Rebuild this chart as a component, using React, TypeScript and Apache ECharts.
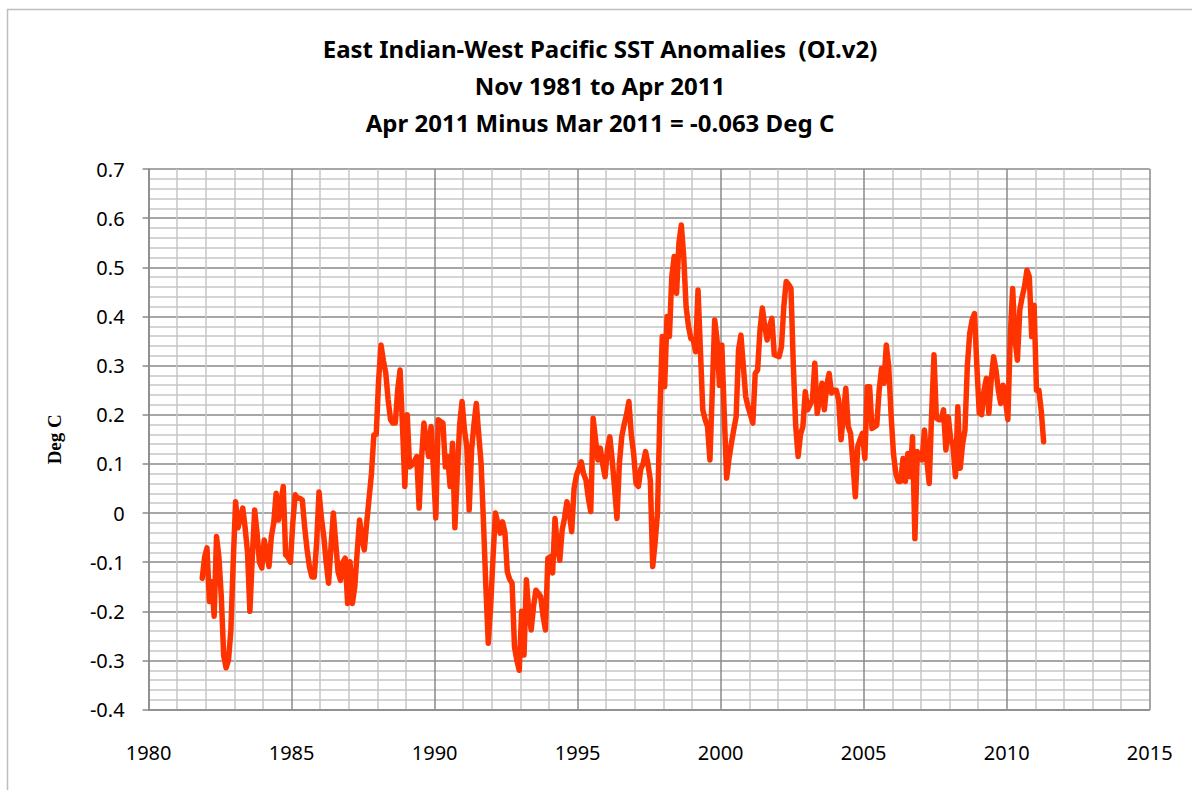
import React, { useEffect, useRef } from "react";
import * as echarts from "echarts";

const titleLines = [
  "East Indian-West Pacific SST Anomalies  (OI.v2)",
  "Nov 1981 to Apr 2011",
  "Apr 2011 Minus Mar 2011 = -0.063 Deg C",
];
const yAxisName = "Deg C";
const startYear = 1981;
const startMonth = 11;
const xMin = 1980;
const xMax = 2015;
const xStep = 5;
const yMin = -0.4;
const yMax = 0.7;
const yStep = 0.1;

// Monthly anomalies, Nov 1981 .. Apr 2011 (deg C)
const anomalies = [
  -0.133, -0.09, -0.071, -0.18, -0.14, -0.21, -0.048, -0.09, -0.17, -0.29,
  -0.315, -0.3, -0.24, -0.1, 0.023, -0.03, -0.01, 0.01, -0.03, -0.08,
  -0.2, -0.09, 0.006, -0.04, -0.1, -0.112, -0.055, -0.08, -0.109, -0.048,
  -0.02, 0.04, -0.014, 0.02, 0.054, -0.085, -0.09, -0.1, -0.02, 0.037,
  0.03, 0.03, 0.026, -0.03, -0.075, -0.11, -0.13, -0.13, -0.06, 0.043,
  -0.01, -0.048, -0.1, -0.143, -0.07, 0.0, -0.06, -0.12, -0.137, -0.1,
  -0.092, -0.184, -0.099, -0.184, -0.15, -0.08, -0.014, -0.05, -0.075, -0.02,
  0.03, 0.08, 0.159, 0.16, 0.27, 0.342, 0.31, 0.285, 0.23, 0.19,
  0.183, 0.183, 0.25, 0.291, 0.18, 0.054, 0.2, 0.094, 0.098, 0.105,
  0.115, 0.01, 0.11, 0.183, 0.15, 0.115, 0.176, 0.09, -0.01, 0.19,
  0.186, 0.183, 0.094, 0.115, 0.054, 0.142, -0.03, 0.08, 0.18, 0.227,
  0.17, 0.135, 0.006, 0.128, 0.18, 0.223, 0.16, 0.101, -0.02, -0.15,
  -0.265, -0.19, -0.09, 0.0, -0.02, -0.041, -0.018, -0.04, -0.12, -0.135,
  -0.143, -0.272, -0.3, -0.32, -0.2, -0.289, -0.136, -0.2, -0.238, -0.19,
  -0.157, -0.163, -0.17, -0.21, -0.238, -0.092, -0.089, -0.122, -0.011, -0.07,
  -0.096, -0.035, -0.01, 0.023, 0.0, -0.038, 0.05, 0.077, 0.09, 0.104,
  0.08, 0.067, 0.03, 0.003, 0.193, 0.15, 0.108, 0.132, 0.1, 0.074,
  0.13, 0.155, 0.108, 0.05, -0.011, 0.1, 0.155, 0.18, 0.2, 0.227,
  0.16, 0.121, 0.06, 0.054, 0.09, 0.101, 0.125, 0.1, 0.067, -0.109,
  -0.06, 0.0, 0.2, 0.359, 0.257, 0.4, 0.359, 0.481, 0.522, 0.447,
  0.55, 0.586, 0.522, 0.42, 0.38, 0.355, 0.352, 0.328, 0.454, 0.332,
  0.21, 0.19, 0.176, 0.108, 0.25, 0.393, 0.352, 0.26, 0.342, 0.203,
  0.071, 0.11, 0.142, 0.17, 0.196, 0.332, 0.362, 0.3, 0.237, 0.216,
  0.2, 0.183, 0.284, 0.291, 0.372, 0.417, 0.38, 0.352, 0.379, 0.396,
  0.322, 0.32, 0.318, 0.338, 0.42, 0.471, 0.465, 0.457, 0.298, 0.176,
  0.115, 0.16, 0.176, 0.247, 0.21, 0.22, 0.23, 0.305, 0.203, 0.23,
  0.264, 0.21, 0.26, 0.284, 0.244, 0.25, 0.25, 0.23, 0.149, 0.2,
  0.254, 0.176, 0.162, 0.1, 0.033, 0.135, 0.15, 0.162, 0.111, 0.257,
  0.257, 0.172, 0.175, 0.179, 0.25, 0.294, 0.264, 0.342, 0.298, 0.2,
  0.121, 0.08, 0.064, 0.064, 0.111, 0.064, 0.121, 0.074, 0.155, -0.052,
  0.125, 0.11, 0.108, 0.169, 0.108, 0.06, 0.2, 0.322, 0.193, 0.19,
  0.19, 0.21, 0.128, 0.196, 0.15, 0.135, 0.074, 0.216, 0.091, 0.14,
  0.169, 0.3, 0.366, 0.393, 0.406, 0.298, 0.203, 0.2, 0.25, 0.274,
  0.203, 0.271, 0.318, 0.291, 0.25, 0.223, 0.26, 0.23, 0.19, 0.36,
  0.457, 0.352, 0.311, 0.413, 0.44, 0.461, 0.494, 0.481, 0.359, 0.423,
  0.25, 0.25, 0.208, 0.145,
];

const FONT = "'Noto Sans', 'Open Sans', sans-serif";

export default function App() {
  const ref = useRef<HTMLDivElement>(null);

  useEffect(() => {
    if (!ref.current) return;
    const chart = echarts.init(ref.current, undefined, { renderer: "svg" });
    const data = anomalies.map((v, i) => [
      startYear + (startMonth - 1 + i + 0.5) / 12,
      v,
    ]);
    const titleY = [48, 85, 122];
    chart.setOption({
      animation: false,
      backgroundColor: "#ffffff",
      graphic: [
        {
          type: "rect",
          shape: { x: 7.5, y: 9.5, width: 1200, height: 800 },
          style: { fill: "none", stroke: "#bdbdbd", lineWidth: 1.5 },
          silent: true,
        },
        ...titleLines.map((t, i) => ({
          type: "text",
          x: 600,
          y: titleY[i],
          style: {
            text: t,
            fill: "#000",
            font: `bold 24px ${FONT}`,
            textAlign: "center",
            textVerticalAlign: "middle",
          },
        })),
      ],
      grid: { left: 148.6, right: 42.3, top: 169, bottom: 80.4, containLabel: false },
      xAxis: {
        type: "value",
        min: xMin,
        max: xMax,
        interval: xStep,
        axisLine: { show: true, onZero: false, lineStyle: { color: "#8a8a8a", width: 1.5 } },
        axisTick: { show: false },
        axisLabel: {
          color: "#000",
          fontFamily: FONT,
          fontSize: 20,
          margin: 33,
          formatter: (v: number) => String(v),
        },
        splitLine: { show: true, lineStyle: { color: "#8a8a8a", width: 1.5 } },
        minorTick: { show: false, splitNumber: 5 },
        minorSplitLine: { show: true, lineStyle: { color: "#c6c6c6", width: 1.5 } },
      },
      yAxis: {
        type: "value",
        min: yMin,
        max: yMax,
        interval: yStep,
        name: yAxisName,
        nameLocation: "middle",
        nameGap: 85,
        nameRotate: 90,
        nameTextStyle: {
          color: "#000",
          fontFamily: "'Liberation Serif', 'DejaVu Serif', serif",
          fontWeight: "bold",
          fontSize: 19,
        },
        axisLine: { show: true, onZero: false, lineStyle: { color: "#8a8a8a", width: 1.5 } },
        axisTick: { show: true, length: 6, lineStyle: { color: "#8a8a8a", width: 1.5 } },
        axisLabel: {
          color: "#000",
          fontFamily: FONT,
          fontSize: 20,
          margin: 24,
          formatter: (v: number) => String(Math.round(v * 10) / 10),
        },
        splitLine: { show: true, lineStyle: { color: "#8a8a8a", width: 1.5 } },
        minorTick: { show: false, splitNumber: 5 },
        minorSplitLine: { show: true, lineStyle: { color: "#c6c6c6", width: 1.5 } },
      },
      series: [
        {
          type: "line",
          data,
          showSymbol: false,
          symbol: "none",
          lineStyle: { color: "#ff3300", width: 5.5, join: "round", cap: "round" },
          itemStyle: { color: "#ff3300" },
          z: 10,
        },
      ],
    });
    return () => chart.dispose();
  }, []);

  return (
    <div
      ref={ref}
      style={{ position: "fixed", left: 0, top: 0, width: 1192, height: 790 }}
    />
  );
}
